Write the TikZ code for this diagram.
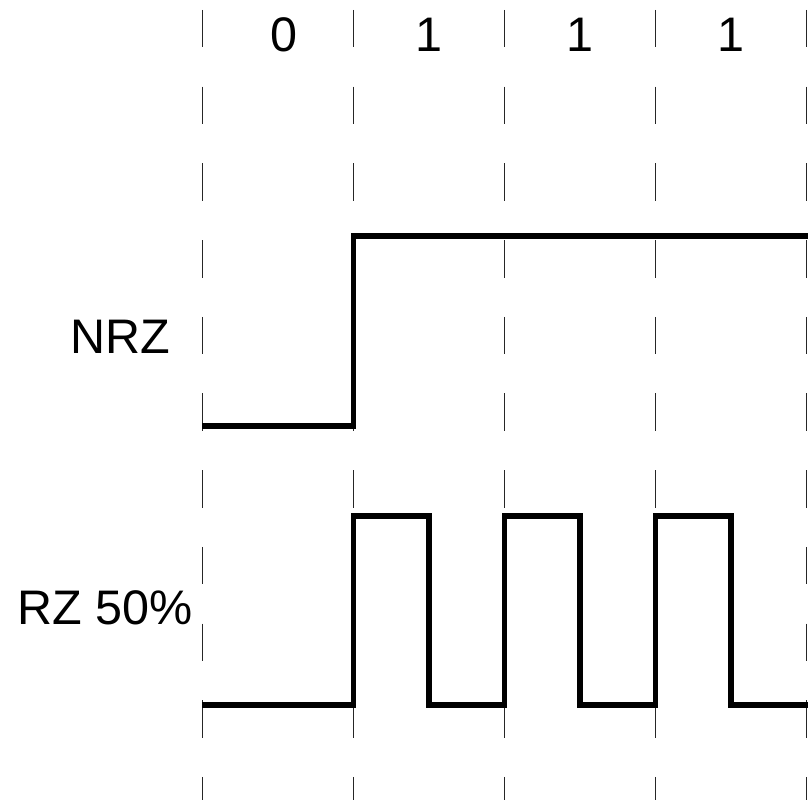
\documentclass[tikz,border=0pt]{standalone}
\usepackage{fontspec}
\setmainfont{Liberation Sans}
\begin{document}
\begin{tikzpicture}[
  x=1.51cm, y=1.51cm,
  grid/.style={draw=black!85, line width=0.45pt,
               dash pattern=on 3.75mm off 3.92mm},
  wave/.style={line width=1.7pt, line join=miter},
  lbl/.style={font=\fontsize{13.8}{17}\selectfont, inner sep=0pt}
]
  \useasboundingbox (-1.341,0) rectangle (4.010,-5.298);

  % bit boundaries
  \foreach \i in {0,...,4}
    \draw[grid] (\i,-0.066) -- (\i,-5.4);

  % bit values
  \node[lbl,anchor=base] (bit0) at (0.54,-0.338) {0};
  \node[lbl,anchor=base] (bit1) at (1.5,-0.338) {1};
  \node[lbl,anchor=base] (bit2) at (2.5,-0.338) {1};
  \node[lbl,anchor=base] (bit3) at (3.5,-0.338) {1};

  % NRZ
  \node[lbl,anchor=base east] (nrz) at (-0.21,-2.338) {NRZ};
  \draw[wave] (0,-2.818) -- (1,-2.818) -- (1,-1.563) -- (4.01,-1.563);

  % RZ, half-bit pulses
  \node[lbl,anchor=base east] (rz) at (-0.06,-4.139) {RZ 50\%};
  \draw[wave] (0,-4.669)
    foreach \i in {1,2,3} {
      -- (\i,-4.669) -- (\i,-3.417) -- (\i+0.5,-3.417) -- (\i+0.5,-4.669)
    } -- (4.01,-4.669);
\end{tikzpicture}
\end{document}
